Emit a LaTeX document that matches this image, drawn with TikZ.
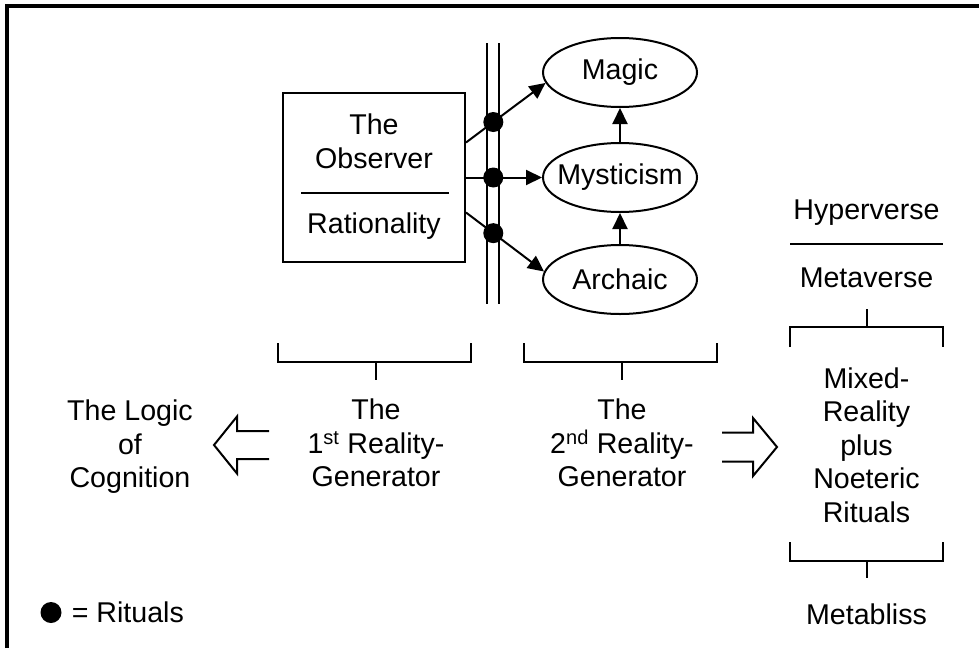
\documentclass[tikz,border=0pt]{standalone}
\usepackage{fontspec}
\setmainfont{Liberation Sans}
\usetikzlibrary{positioning}
\usetikzlibrary{shapes.geometric}
\usetikzlibrary{arrows.meta}

\tikzset{
  realm/.style={draw, ellipse, minimum width=154pt, minimum height=69pt, inner sep=0pt},
  ritual/.style={circle, fill=black, minimum size=20pt, inner sep=0pt},
  hollow/.style={line join=miter},
}

\begin{document}
\begin{tikzpicture}[x=1pt, y=-1pt, line width=2pt,
    every node/.style={font=\fontsize{28.6}{33.5}\selectfont, align=center},
    >={Triangle[length=16pt,width=15pt]}]
  \useasboundingbox (0,0) rectangle (979,648);
  % frame, cut off at right and bottom
  \draw[line width=4pt] (6.5,648) -- (6.5,6) -- (979,6);

  % the observer
  \node[draw, minimum width=182pt, minimum height=169pt] (obs) at (374,177.5) {};
  \node (obsname) at (374,141.5) {The\\Observer};
  \node (ratio) at (374,226) {Rationality};
  \draw ([shift={(19,15)}]obs.west) -- ([shift={(-17,15)}]obs.east);

  % barrier
  \draw (487,43) -- (487,304) (499,43) -- (499,304);

  % realms
  \node[realm, label=center:Mysticism] (myst) at (620,177.5) {};
  \node[realm, label=center:Magic, above=34pt of myst] (magic) {};
  \node[realm, label=center:Archaic, below=31pt of myst] (arch) {};

  \draw[->] (myst) -- (magic);
  \draw[->] (arch) -- (myst);
  \draw[->] ([yshift=35pt]obs.east) -- node[ritual, pos=.344] (r1) {} (magic.188);
  \draw[->] (obs.east) -- node[ritual, pos=.359] (r2) {} (myst.west);
  \draw[->] ([yshift=-35pt]obs.east) -- node[ritual, pos=.35] (r3) {} (arch.174);

  % brackets
  \draw (278,343) -- (278,362) -- (471,362) -- (471,343) (376,362) -- (376,380);
  \draw (524,343) -- (524,362) -- (717,362) -- (717,343) (622,362) -- (622,380);

  % generators
  \node (gen1) at (376,443.25) {The\\1\textsuperscript{st} Reality-\\Generator};
  \node (gen2) at (622,443.25) {The\\2\textsuperscript{nd} Reality-\\Generator};
  \node (logic) at (130,447) {The Logic\\of\\Cognition};

  \coordinate (back1) at (269,445);
  \draw[hollow] (back1) ++(0,-14) -- ++(-32,0) -- ++(0,-14.5) -- ++(-23,28.5)
    -- ++(23,28.5) -- ++(0,-14.5) -- ++(32,0);
  \coordinate (back2) at (722,447);
  \draw[hollow] (back2) ++(0,-14.5) -- ++(31,0) -- ++(0,-14.5) -- ++(24,29)
    -- ++(-24,29) -- ++(0,-14.5) -- ++(-31,0);

  % right column
  \node (hyper) at (866.5,213) {Hyperverse};
  \draw (790,244) -- (943,244);
  \node (meta) at (866.5,278) {Metaverse};
  \draw (867,309) -- (867,327) (790,347) -- (790,327) -- (943,327) -- (943,347);
  \node (mixed) at (866.5,445) {Mixed-\\Reality\\plus\\Noeteric\\Rituals};
  \draw (790,542) -- (790,561) -- (943,561) -- (943,542) (867,561) -- (867,578);
  \node (bliss) at (866.5,614) {Metabliss};

  % key
  \node[ritual, minimum size=21pt] (key) at (51,612.5) {};
  \node[right=5pt of key] (keytext) {= Rituals};
\end{tikzpicture}
\end{document}
